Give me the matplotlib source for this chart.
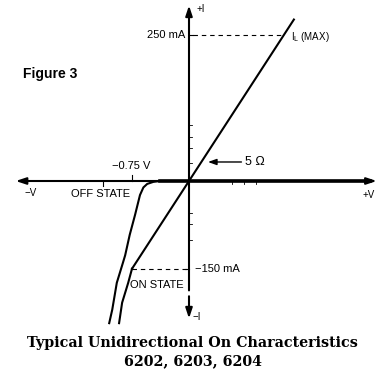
import matplotlib
matplotlib.use("Agg")
import matplotlib.pyplot as plt

# I-V characteristic, volts vs milliamps
# 5 ohm on-state line through the origin
line_v = [-0.75, 0.0, 1.25, 1.38]
line_i = [-150, 0, 250, 276]

# on-state knee below -150 mA
on_v = [-0.75, -0.80, -0.88, -0.92]
on_i = [-150, -174, -208, -243]

# off-state branch: flat along the axis, then breaking down
off_v = [2.38, -0.38, -0.47, -0.55, -0.60, -0.645, -0.71, -0.78, -0.84, -0.87, -0.95, -1.01, -1.05]
off_i = [0, 0, -1.5, -5, -11, -24, -58, -92, -127, -140, -174, -220, -243]

i_max = 250
i_on = -150
v_off = -0.75

y_ticks = [96, 75, 56, 31, -55, -74, -101]
x_ticks_below = [0.57, 0.72, 0.88]

PX_V = 76.0     # pixels per volt
PX_MA = 0.585   # pixels per mA
W, H = 385, 374
X0, Y0 = 189, 181   # origin position in pixels

fig = plt.figure(figsize=(W / 100, H / 100), dpi=100)
ax = fig.add_axes([0, 0, 1, 1])
ax.set_xlim(-X0 / PX_V, (W - X0) / PX_V)
ax.set_ylim(-(H - Y0) / PX_MA, Y0 / PX_MA)
ax.axis("off")

k = "black"
arrow = dict(arrowstyle="-|>,head_length=0.6,head_width=0.2", color=k, lw=1.5,
             shrinkA=0, shrinkB=0)

# axes with arrow heads
ax.annotate("", xy=(-2.28, 0), xytext=(0, 0), arrowprops=arrow)
ax.annotate("", xy=(2.47, 0), xytext=(0, 0), arrowprops=arrow)
ax.annotate("", xy=(0, 300), xytext=(0, -187), arrowprops=arrow)
ax.annotate("", xy=(0, -235), xytext=(0, -197), arrowprops=arrow)

# curves
ax.plot(off_v, off_i, color=k, lw=1.5, solid_joinstyle="round")
ax.plot([off_v[0], off_v[1]], [0, 0], color=k, lw=2.6)
ax.plot(line_v, line_i, color=k, lw=1.5)
ax.plot(on_v, on_i, color=k, lw=1.5)

# dashed reference levels
dash = dict(color=k, lw=0.8, linestyle=(0, (4, 3.5)))
ax.plot([0.05, 1.25], [i_max, i_max], **dash)
ax.plot([v_off, 0], [i_on, i_on], **dash)

# small tick marks
ax.plot([0, 0.05], [i_max, i_max], color=k, lw=0.8)
ax.plot([-0.05, 0], [i_on, i_on], color=k, lw=0.8)
ax.plot([v_off, v_off], [0, 10], color=k, lw=0.8)
ax.plot([-1.13, -1.13], [0, -8], color=k, lw=0.8)
for t in y_ticks:
    ax.plot([0, 0.04], [t, t], color=k, lw=0.6)
for t in x_ticks_below:
    ax.plot([t, t], [0, -5], color=k, lw=0.6)

# labels
sans = "Liberation Sans"
ax.text(0.10, 294, "+I", fontsize=7, family=sans, ha="left", va="center")
ax.text(-0.05, i_max, "250 mA", fontsize=8, family=sans, ha="right", va="center")
ax.text(1.34, i_max - 3, r"I$_\mathrm{L}$ (MAX)", fontsize=7, family=sans,
        ha="left", va="center")
ax.text(-2.18, 183, "Figure 3", fontsize=10, family=sans, weight="bold",
        ha="left", va="center")
ax.annotate("", xy=(0.25, 32.5), xytext=(0.69, 32.5),
            arrowprops=dict(arrowstyle="-|>,head_length=0.5,head_width=0.18",
                            color=k, lw=1.0, shrinkA=0, shrinkB=0))
ax.text(0.74, 32.5, "5 Ω", fontsize=9, family=sans, ha="left", va="center")
ax.text(-0.765, 25.5, "\u22120.75 V", fontsize=8, family=sans, ha="center", va="center")
ax.text(-1.16, -22, "OFF STATE", fontsize=8, family=sans, ha="center", va="center")
ax.text(-2.08, -20.5, "\u2212V", fontsize=7, family=sans, ha="center", va="center")
ax.text(2.36, -24, "+V", fontsize=7, family=sans, ha="center", va="center")
ax.text(-0.78, -178, "ON STATE", fontsize=8, family=sans, ha="left", va="center")
ax.text(0.08, i_on, "\u2212150 mA", fontsize=8, family=sans, ha="left", va="center")
ax.text(0.05, -232, "\u2212I", fontsize=7, family=sans, ha="left", va="center")

fig.text(0.501, 0.083, "Typical Unidirectional On Characteristics",
         fontsize=10.3, family="DejaVu Serif", weight="bold", ha="center", va="center")
fig.text(0.501, 0.035, "6202, 6203, 6204",
         fontsize=10.3, family="DejaVu Serif", weight="bold", ha="center", va="center")

fig.savefig("out.png", dpi=100, facecolor="white")
